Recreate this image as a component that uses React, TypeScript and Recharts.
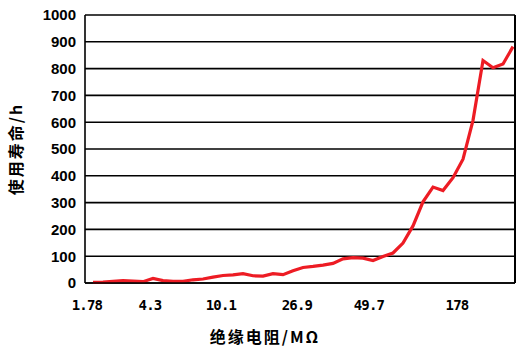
import { CartesianGrid, Line, LineChart, XAxis, YAxis } from "recharts";

// service life (h) per measurement, left to right along the insulation-resistance axis
const LIFE_HOURS = [
  2, 3, 6, 9, 7, 5, 17, 9, 6, 6, 12, 15, 22, 28, 30, 35, 27, 26, 35, 31, 46, 58, 62, 67, 73, 90, 95,
  93, 84, 99, 112, 149, 213, 303, 358, 345, 393, 462, 607, 830, 803, 817, 882,
];

// where the labelled resistance values sit along the point sequence
const TICK_POS = [-0.6, 5.7, 12.8, 20.4, 27.6, 36.4];
const TICK_LABELS = ["1.78", "4.3", "10.1", "26.9", "49.7", "178"];
const X_DOMAIN = [-0.8, 42.2];

const Y_TICKS = [0, 100, 200, 300, 400, 500, 600, 700, 800, 900, 1000];
const Y_DOMAIN = [0, 1000];

const data = LIFE_HOURS.map((h, i) => ({ idx: i, life: h }));

const TITLE_FONT = {
  fontFamily: "'Noto Sans CJK SC', sans-serif",
  fontWeight: 700,
  fontSize: 16,
  letterSpacing: 2,
  fill: "#000",
} as const;

export default function App() {
  return (
    <div style={{ position: "absolute", left: 0, top: 0, background: "#fff" }}>
      <LineChart
        width={530}
        height={357}
        data={data}
        margin={{ top: 15, right: 0, bottom: 44, left: 0 }}
      >
        <CartesianGrid yAxisId="left" vertical={false} stroke="#000" strokeWidth={1.6} />
        <XAxis
          dataKey="idx"
          type="number"
          domain={X_DOMAIN}
          allowDataOverflow
          ticks={TICK_POS}
          interval={0}
          height={30}
          tickLine={false}
          tickSize={0}
          tickMargin={17}
          stroke="#000"
          strokeWidth={1.6}
          tickFormatter={(v: number) => TICK_LABELS[TICK_POS.indexOf(v)] ?? ""}
          tick={{
            fill: "#000",
            fontFamily: "'DejaVu Sans Mono', monospace",
            fontWeight: 700,
            fontSize: 14,
            letterSpacing: -0.8,
          }}
          label={() => (
            <text x={265} y={343} textAnchor="middle" style={TITLE_FONT}>
              绝缘电阻/MΩ
            </text>
          )}
        />
        <YAxis
          yAxisId="left"
          type="number"
          domain={Y_DOMAIN}
          ticks={Y_TICKS}
          interval={0}
          width={85}
          tickLine={false}
          tickSize={0}
          tickMargin={9}
          stroke="#000"
          strokeWidth={1.6}
          tick={{
            fill: "#000",
            fontFamily: "'Liberation Sans', Arial, sans-serif",
            fontWeight: 700,
            fontSize: 15,
          }}
          label={() => (
            <text
              x={22}
              y={149}
              textAnchor="middle"
              transform="rotate(-90 22 149)"
              style={TITLE_FONT}
            >
              使用寿命/h
            </text>
          )}
        />
        {/* right edge of the plot frame */}
        <YAxis
          yAxisId="right"
          orientation="right"
          type="number"
          domain={Y_DOMAIN}
          allowDataOverflow
          ticks={Y_TICKS}
          width={15}
          tick={false}
          tickLine={false}
          stroke="#000"
          strokeWidth={2}
        />
        <Line
          yAxisId="left"
          type="linear"
          dataKey="life"
          stroke="#ED1C24"
          strokeWidth={3.2}
          dot={false}
          isAnimationActive={false}
        />
      </LineChart>
    </div>
  );
}
